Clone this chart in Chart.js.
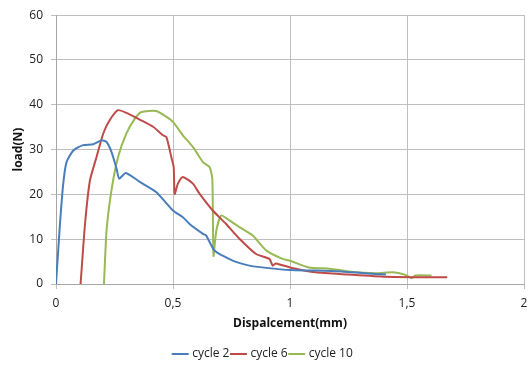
<!DOCTYPE html>
<html>
<head>
<meta charset="utf-8">
<script src="https://cdn.jsdelivr.net/npm/chart.js@4/dist/chart.umd.min.js"></script>
<style>
  html, body { margin: 0; padding: 0; background: #fff; }
  #wrap { width: 527px; height: 367px; }
</style>
</head>
<body>
<div id="wrap"><canvas id="loadChart" width="527" height="367"></canvas></div>
<script>
// displacement (mm) / load (N)
const cycle2X = [0, 0.017, 0.031, 0.045, 0.074, 0.116, 0.159, 0.195, 0.216, 0.237, 0.259, 0.27, 0.298, 0.358, 0.429, 0.5, 0.542, 0.571, 0.628, 0.642, 0.677, 0.755, 0.826, 0.898, 1.0, 1.11, 1.22, 1.32, 1.41];
const cycle2Y = [0, 13.4, 22.4, 27.2, 29.8, 31.0, 31.2, 32.1, 31.7, 29.5, 25.7, 23.5, 24.8, 22.8, 20.5, 16.4, 14.9, 13.4, 11.2, 10.8, 7.5, 5.2, 4.1, 3.6, 3.1, 3.0, 2.8, 2.4, 2.1];

const cycle6X = [0.105, 0.124, 0.145, 0.173, 0.202, 0.23, 0.265, 0.301, 0.358, 0.415, 0.457, 0.472, 0.493, 0.503, 0.507, 0.521, 0.542, 0.585, 0.614, 0.67, 0.727, 0.784, 0.855, 0.912, 0.926, 0.94, 1.0, 1.11, 1.25, 1.41, 1.55, 1.672];
const cycle6Y = [0, 13.4, 23.1, 28.3, 33.6, 36.6, 38.8, 38.2, 36.7, 35.1, 33.2, 32.8, 28.3, 26.1, 20.1, 22.4, 23.9, 22.4, 20.1, 16.4, 13.4, 10.1, 6.7, 5.6, 4.1, 4.6, 3.7, 2.6, 2.1, 1.6, 1.5, 1.5];

const cycle10X = [0.205, 0.216, 0.237, 0.265, 0.301, 0.337, 0.365, 0.429, 0.472, 0.5, 0.542, 0.585, 0.628, 0.656, 0.668, 0.673, 0.685, 0.706, 0.741, 0.784, 0.841, 0.898, 0.968, 1.0, 1.08, 1.17, 1.25, 1.37, 1.44, 1.49, 1.52, 1.535, 1.605];
const cycle10Y = [0, 11.9, 20.9, 28.3, 33.6, 36.9, 38.4, 38.6, 37.3, 36.2, 33.2, 30.6, 27.2, 26.1, 23.5, 6.3, 11.9, 15.3, 14.2, 12.7, 10.8, 7.5, 5.6, 5.2, 3.7, 3.4, 2.8, 2.4, 2.6, 2.1, 1.3, 1.9, 1.9];

const seriesNames = ["cycle 2", "cycle 6", "cycle 10"];
const seriesColors = ["#4A7EBB", "#BE4B48", "#98B954"];
const yTicks = [0, 10, 20, 30, 40, 50, 60];
const xTicks = [0, 0.5, 1, 1.5, 2];

const toPoints = (xs, ys) => xs.map((x, i) => ({ x: x, y: ys[i] }));
const allX = [cycle2X, cycle6X, cycle10X];
const allY = [cycle2Y, cycle6Y, cycle10Y];

const datasets = seriesNames.map((name, i) => ({
    label: name,
    data: toPoints(allX[i], allY[i]),
    borderColor: seriesColors[i],
    backgroundColor: seriesColors[i],
    borderWidth: 2,
    pointRadius: 0,
    showLine: true,
    tension: 0.2
}));

const fontFamily = "'Open Sans', 'Liberation Sans', sans-serif";

new Chart(document.getElementById("loadChart"), {
    type: "scatter",
    data: { datasets: datasets },
    options: {
        responsive: false,
        animation: false,
        layout: { padding: { top: 13, right: 0, left: 0, bottom: -3 } },
        plugins: {
            tooltip: { enabled: false },
            legend: {
                position: "bottom",
                labels: {
                    usePointStyle: true,
                    pointStyle: "line",
                    boxWidth: 18,
                    color: "#222",
                    font: { family: fontFamily, size: 12 },
                    padding: 3
                }
            }
        },
        scales: {
            x: {
                type: "linear",
                min: 0,
                max: 2,
                afterBuildTicks: (axis) => { axis.ticks = xTicks.map(v => ({ value: v })); },
                afterFit: (axis) => {
                    axis.height = 61;
                    axis.paddingRight = 3;
                    axis.paddingLeft = 0;
                },
                grid: { color: "#bfbfbf", lineWidth: 1, tickLength: 5, drawTicks: true },
                border: { color: "#a6a6a6" },
                ticks: {
                    color: "#222",
                    font: { family: fontFamily, size: 12 },
                    padding: 7,
                    maxRotation: 0,
                    callback: (v) => String(v).replace(".", ",")
                },
                title: {
                    display: true,
                    text: "Dispalcement(mm)",
                    color: "#111",
                    font: { family: fontFamily, size: 12, weight: "bold" },
                    padding: { top: 0, bottom: 14 }
                }
            },
            y: {
                min: 0,
                max: 60,
                afterBuildTicks: (axis) => { axis.ticks = yTicks.map(v => ({ value: v })); },
                afterFit: (axis) => { axis.width = 56; },
                grid: { color: "#bfbfbf", lineWidth: 1, tickLength: 5 },
                border: { color: "#a6a6a6" },
                ticks: {
                    color: "#222",
                    font: { family: fontFamily, size: 12 },
                    padding: 8
                },
                title: {
                    display: true,
                    text: "load(N)",
                    color: "#111",
                    font: { family: fontFamily, size: 12, weight: "bold" },
                    padding: { top: 11, bottom: 4 }
                }
            }
        }
    }
});
</script>
</body>
</html>
